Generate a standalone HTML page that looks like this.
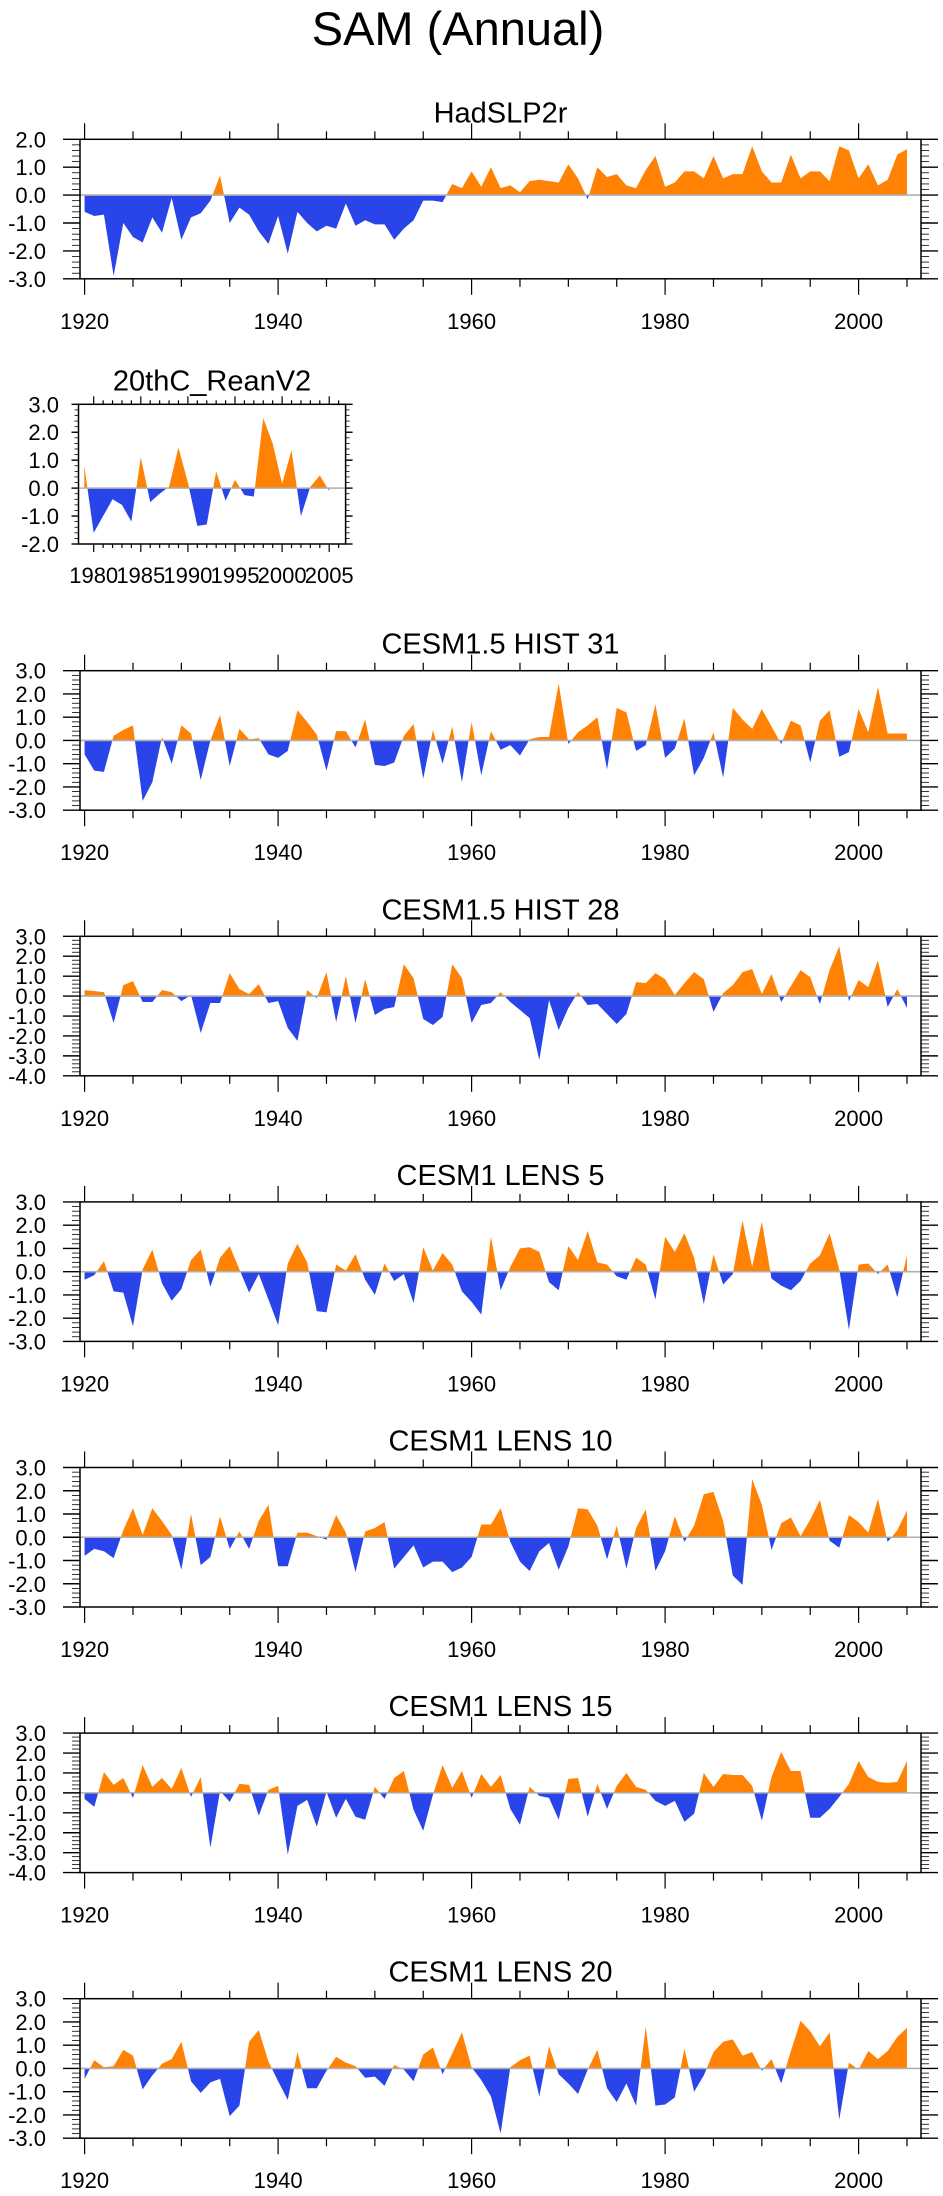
<!DOCTYPE html>
<html><head><meta charset="utf-8">
<style>
html,body{margin:0;padding:0;background:#fff;}
svg{display:block;font-family:"Liberation Sans",Arial,sans-serif;}
</style></head>
<body>
<svg id="fig" width="943" height="2196" viewBox="0 0 943 2196" xmlns="http://www.w3.org/2000/svg">
<rect x="0" y="0" width="943" height="2196" fill="#fff"/>
<text x="458" y="45" font-size="47" text-anchor="middle" fill="#000">SAM (Annual)</text>
</svg>
<script>
// ---- data (annual SAM index values) ----
const yearsMain = [];
for (let y = 1920; y <= 2005; y++) yearsMain.push(y);
const years20C = [];
for (let y = 1979; y <= 2005; y++) years20C.push(y);

const hadslp2r = [-0.6,-0.75,-0.7,-2.9,-1.0,-1.5,-1.7,-0.8,-1.35,-0.1,-1.6,-0.8,-0.65,-0.2,0.7,-1.0,-0.45,-0.7,-1.3,-1.75,-0.75,-2.1,-0.6,-1.0,-1.3,-1.1,-1.2,-0.3,-1.1,-0.9,-1.05,-1.05,-1.6,-1.2,-0.9,-0.2,-0.2,-0.25,0.4,0.25,0.85,0.3,1.0,0.25,0.35,0.1,0.5,0.55,0.5,0.45,1.1,0.6,-0.15,1.0,0.65,0.75,0.35,0.25,0.9,1.4,0.3,0.45,0.85,0.85,0.6,1.4,0.6,0.75,0.75,1.75,0.85,0.45,0.45,1.45,0.6,0.85,0.85,0.5,1.75,1.6,0.6,1.1,0.35,0.55,1.45,1.65];
const reanV2 = [0.8,-1.6,-1.0,-0.4,-0.6,-1.2,1.1,-0.5,-0.2,0.05,1.45,0.2,-1.35,-1.3,0.6,-0.45,0.3,-0.25,-0.3,2.5,1.6,0.15,1.35,-1.0,0.05,0.45,-0.1];
const hist31 = [-0.6,-1.3,-1.35,0.2,0.45,0.65,-2.6,-1.8,0.15,-1.0,0.65,0.3,-1.7,0.0,1.1,-1.1,0.5,0.05,0.1,-0.6,-0.75,-0.45,1.3,0.8,0.25,-1.3,0.4,0.4,-0.3,0.9,-1.05,-1.1,-0.95,0.2,0.7,-1.65,0.45,-1.0,0.6,-1.8,0.8,-1.5,0.4,-0.4,-0.2,-0.65,0.05,0.15,0.15,2.45,-0.15,0.35,0.65,1.0,-1.25,1.4,1.2,-0.45,-0.2,1.55,-0.75,-0.35,0.95,-1.5,-0.75,0.35,-1.6,1.4,0.9,0.5,1.35,0.6,-0.15,0.85,0.65,-0.95,0.85,1.3,-0.7,-0.5,1.35,0.35,2.3,0.3,0.3,0.3];
const hist28 = [0.3,0.25,0.2,-1.35,0.55,0.75,-0.3,-0.3,0.3,0.2,-0.25,0.05,-1.85,-0.35,-0.35,1.15,0.35,0.1,0.6,-0.35,-0.25,-1.6,-2.25,0.3,-0.1,1.2,-1.3,1.0,-1.35,0.85,-0.95,-0.65,-0.55,1.6,0.9,-1.15,-1.45,-1.05,1.6,0.9,-1.35,-0.45,-0.35,0.2,-0.3,-0.7,-1.1,-3.2,-0.2,-1.7,-0.6,0.2,-0.45,-0.4,-0.9,-1.4,-0.9,0.7,0.65,1.15,0.85,0.05,0.65,1.2,0.85,-0.8,0.15,0.55,1.2,1.35,0.1,1.1,-0.3,0.5,1.3,0.95,-0.4,1.3,2.5,-0.25,0.8,0.45,1.8,-0.55,0.35,-0.6];
const lens5 = [-0.35,-0.15,0.45,-0.85,-0.9,-2.35,0.1,0.95,-0.5,-1.25,-0.75,0.5,0.95,-0.65,0.6,1.1,0.1,-0.9,-0.1,-1.2,-2.3,0.35,1.2,0.4,-1.7,-1.75,0.3,0.05,0.75,-0.35,-1.0,0.35,-0.4,-0.1,-1.35,1.05,0.05,0.8,0.3,-0.85,-1.3,-1.85,1.5,-0.8,0.2,1.0,1.05,0.85,-0.45,-0.8,1.1,0.5,1.75,0.4,0.3,-0.2,-0.35,0.6,0.3,-1.2,1.5,0.85,1.65,0.6,-1.4,0.75,-0.55,-0.1,2.2,0.2,2.15,-0.3,-0.6,-0.8,-0.4,0.35,0.7,1.65,0.1,-2.5,0.3,0.35,-0.1,0.3,-1.1,0.7];
const lens10 = [-0.8,-0.5,-0.6,-0.9,0.3,1.25,0.1,1.25,0.7,0.1,-1.4,1.0,-1.2,-0.85,0.9,-0.5,0.25,-0.5,0.7,1.4,-1.25,-1.25,0.2,0.2,0.05,-0.1,0.95,0.2,-1.5,0.25,0.4,0.65,-1.35,-0.85,-0.35,-1.3,-1.05,-1.05,-1.5,-1.3,-0.85,0.55,0.55,1.25,-0.2,-1.05,-1.45,-0.6,-0.25,-1.4,-0.4,1.25,1.2,0.5,-0.95,0.5,-1.35,0.4,1.2,-1.45,-0.6,0.9,-0.2,0.5,1.85,1.95,0.7,-1.65,-2.05,2.5,1.4,-0.55,0.6,0.85,0.05,0.75,1.6,-0.15,-0.45,0.95,0.65,0.2,1.65,-0.2,0.3,1.15];
const lens15 = [-0.3,-0.7,1.05,0.4,0.75,-0.25,1.4,0.3,0.75,0.2,1.25,-0.2,0.8,-2.75,0.1,-0.45,0.45,0.4,-1.15,0.15,0.35,-3.1,-0.65,-0.35,-1.7,0.05,-1.25,-0.3,-1.2,-1.35,0.3,-0.3,0.75,1.1,-0.85,-1.9,-0.1,1.4,0.25,1.1,-0.25,0.95,0.3,0.9,-0.8,-1.6,0.3,-0.15,-0.25,-1.35,0.7,0.75,-1.2,0.45,-0.8,0.35,1.0,0.3,0.15,-0.4,-0.65,-0.4,-1.45,-1.05,1.0,0.3,0.95,0.9,0.9,0.35,-1.4,0.8,2.05,1.1,1.1,-1.25,-1.25,-0.8,-0.2,0.45,1.6,0.8,0.55,0.5,0.55,1.6];
const lens20 = [-0.45,0.35,0.05,0.1,0.8,0.55,-0.9,-0.3,0.2,0.4,1.15,-0.55,-1.05,-0.6,-0.45,-2.05,-1.6,1.15,1.65,0.3,-0.55,-1.35,0.7,-0.85,-0.85,-0.1,0.5,0.25,0.1,-0.4,-0.35,-0.75,0.15,-0.05,-0.55,0.6,0.9,-0.25,0.65,1.55,0.05,-0.5,-1.2,-2.8,0.05,0.35,0.55,-1.2,0.95,-0.25,-0.65,-1.1,-0.05,0.8,-0.85,-1.45,-0.65,-1.6,1.8,-1.6,-1.55,-1.25,0.85,-1.0,-0.3,0.7,1.15,1.25,0.55,0.7,-0.1,0.4,-0.65,0.75,2.05,1.6,0.95,1.55,-2.2,0.25,-0.05,0.75,0.4,0.75,1.35,1.75];

const panelTitles = ["HadSLP2r","20thC_ReanV2","CESM1.5 HIST 31","CESM1.5 HIST 28","CESM1 LENS 5","CESM1 LENS 10","CESM1 LENS 15","CESM1 LENS 20"];
const panelYMin = [-3,-2,-3,-4,-3,-3,-4,-3];
const panelYMax = [2,3,3,3,3,3,3,3];

const NS = "http://www.w3.org/2000/svg";
const svg = document.getElementById("fig");
const ORANGE = "#ff8205", BLUE = "#2945ea";

function mk(tag, attrs, parent) {
  const e = document.createElementNS(NS, tag);
  for (const k in attrs) e.setAttribute(k, attrs[k]);
  (parent || svg).appendChild(e);
  return e;
}

function drawPanel(idx, slug, vals, yrs, geo) {
  const g = mk("g", {});
  
  
  const ymin = panelYMin[idx], ymax = panelYMax[idx];
  const L = geo.left, R = geo.right, T = geo.top, B = geo.top + geo.h;
  const xOf = yr => geo.x0 + (yr - geo.y0yr) * geo.pxYr;
  const yOf = v => T + (ymax - v) / (ymax - ymin) * geo.h;
  const y0 = yOf(0);

  // title
  const t = mk("text", {x: (L + R) / 2, y: T - geo.titleOff, "font-size": geo.titleSize, "text-anchor": "middle", fill: "#000"}, g);
  t.textContent = panelTitles[idx];
  
  

  // area
  const cid = "c" + idx;
  const defs = mk("defs", {}, g);
  const cpA = mk("clipPath", {id: cid + "a"}, defs);
  mk("rect", {x: L, y: T - 5, width: R - L, height: y0 - T + 5}, cpA);
  const cpB = mk("clipPath", {id: cid + "b"}, defs);
  mk("rect", {x: L, y: y0, width: R - L, height: B - y0 + 5}, cpB);
  let pts = xOf(yrs[0]).toFixed(2) + "," + y0.toFixed(2);
  for (let i = 0; i < vals.length; i++) pts += " " + xOf(yrs[i]).toFixed(2) + "," + yOf(vals[i]).toFixed(2);
  pts += " " + xOf(yrs[yrs.length - 1]).toFixed(2) + "," + y0.toFixed(2);
  const pa = mk("polygon", {points: pts, fill: ORANGE, "clip-path": "url(#" + cid + "a)"}, g);
  
  
  const pb = mk("polygon", {points: pts, fill: BLUE, "clip-path": "url(#" + cid + "b)"}, g);
  
  

  // zero line
  const zl = mk("line", {x1: L, x2: R, y1: y0, y2: y0, stroke: "#b0b0b0", "stroke-width": 1.6}, g);
  
  

  // frame
  const fr = mk("rect", {x: L, y: T, width: R - L, height: geo.h, fill: "none", stroke: "#000", "stroke-width": 1.5}, g);
  
  

  // x ticks
  const xt = mk("g", {stroke: "#000", "stroke-width": 1.2}, g);
  
  
  for (let yr = geo.tickStart; yr <= geo.tickEnd; yr += geo.minorStep) {
    const major = ((yr - geo.tickStart) % geo.majorStep) === 0;
    const len = major ? geo.xMajLen : geo.xMinLen;
    const x = xOf(yr);
    mk("line", {x1: x, x2: x, y1: T, y2: T - len}, xt);
    mk("line", {x1: x, x2: x, y1: B, y2: B + len}, xt);
    if (major) {
      const lb = mk("text", {x: x, y: B + geo.xLabOff, "font-size": 22, "text-anchor": "middle", fill: "#000", stroke: "none"}, g);
      lb.textContent = String(yr);
      
      
    }
  }
  // y ticks
  const yt = mk("g", {stroke: "#000", "stroke-width": 1}, g);
  
  
  for (let k = Math.round(ymin * 5); k <= Math.round(ymax * 5); k++) {
    const v = k / 5, y = yOf(v);
    const major = k % 5 === 0;
    const len = major ? geo.yMajLen : geo.yMinLen;
    mk("line", {x1: L, x2: L - len, y1: y, y2: y, "stroke-width": major ? 1.4 : 0.8}, yt);
    mk("line", {x1: R, x2: R + len, y1: y, y2: y, "stroke-width": major ? 1.4 : 0.8}, yt);
    if (major) {
      const lb = mk("text", {x: geo.yLabRight, y: y + 8, "font-size": 22, "text-anchor": "end", fill: "#000", stroke: "none"}, g);
      lb.textContent = v.toFixed(1);
      
      
    }
  }
}

const mainGeo = top => ({left: 80, right: 921, top: top, h: 139.5, x0: 84.6, y0yr: 1920, pxYr: 9.675,
  tickStart: 1920, tickEnd: 2005, majorStep: 20, minorStep: 5, xMajLen: 16, xMinLen: 8,
  yMajLen: 17, yMinLen: 8, yLabRight: 46, xLabOff: 50, titleOff: 17, titleSize: 29});

drawPanel(0, "hadslp2r", hadslp2r, yearsMain, mainGeo(139.3));
drawPanel(1, "reanv2", reanV2, years20C, {left: 78.5, right: 345.6, top: 404.3, h: 139.7, x0: 93.7, y0yr: 1980, pxYr: 9.42,
  tickStart: 1980, tickEnd: 2006, majorStep: 5, minorStep: 1, xMajLen: 8, xMinLen: 4,
  yMajLen: 7, yMinLen: 4, yLabRight: 59, xLabOff: 39, titleOff: 14, titleSize: 29});
const seriesList = [hist31, hist28, lens5, lens10, lens15, lens20];
const slugs = ["hist31", "hist28", "lens5", "lens10", "lens15", "lens20"];
for (let i = 0; i < seriesList.length; i++) {
  drawPanel(i + 2, slugs[i], seriesList[i], yearsMain, mainGeo(670.7 + 265.6 * i));
}
</script>
</body></html>
